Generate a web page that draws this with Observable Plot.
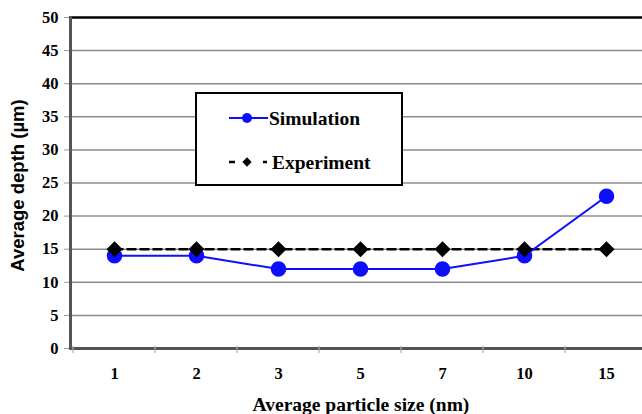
<!DOCTYPE html>
<html><head><meta charset="utf-8">
<script src="https://cdn.jsdelivr.net/npm/d3@7"></script>
<script src="https://cdn.jsdelivr.net/npm/@observablehq/plot@0.6"></script>
<style>
body{margin:0;background:#fff}
#chart{position:relative;width:642px;height:414px}
</style></head><body><div id="chart"></div>
<script>
// Average depth vs. average particle size
const sizes = ["1", "2", "3", "5", "7", "10", "15"];
const simulation = [14, 14, 12, 12, 12, 14, 23];
const experiment = [15, 15, 15, 15, 15, 15, 15];
const yTicks = [0, 5, 10, 15, 20, 25, 30, 35, 40, 45, 50];
const seriesNames = ["Simulation", "Experiment"];
const xTitle = "Average particle size (nm)";
const yTitle = "Average depth (\u00b5m)";

const sim = sizes.map((s, i) => ({size: s, depth: simulation[i]}));
const exp = sizes.map((s, i) => ({size: s, depth: experiment[i]}));

const serif = "'Liberation Serif','Times New Roman',serif";
const sans = "'Liberation Sans',Arial,sans-serif";
const blue = "#0d0dff";

const plot = Plot.plot({
  width: 642, height: 414,
  marginTop: 17, marginBottom: 66, marginLeft: 70, marginRight: 0,
  style: `font-family:${serif};font-weight:bold;font-size:16.5px;background:#fff;color:#000;`,
  x: {type: "band", domain: sizes, range: [70, 649], padding: 0, label: null},
  y: {domain: [0, 50], label: null},
  marks: [
    Plot.ruleY(yTicks.filter(d => d > 0 && d < 50), {stroke: "#8c8c8c", strokeWidth: 1.5}),
    Plot.ruleY([50], {stroke: "#000", strokeWidth: 2.5}),
    Plot.axisY({ticks: yTicks, tickSize: 6, tickPadding: 6, stroke: "#999", fill: "#000", fontSize: 16.5, label: null}),
    Plot.axisX({tickSize: 0, tickPadding: 19, fill: "#000", fontSize: 16.5, label: null}),
    Plot.frame({anchor: "left", stroke: "#555", strokeWidth: 3}),
    Plot.frame({anchor: "bottom", stroke: "#555", strokeWidth: 3}),
    Plot.line(exp, {x: "size", y: "depth", stroke: "#000", strokeWidth: 2.5, strokeDasharray: "8,5"}),
    Plot.line(sim, {x: "size", y: "depth", stroke: blue, strokeWidth: 2}),
    Plot.dot(sim, {x: "size", y: "depth", r: 7, fill: blue, stroke: blue}),
    Plot.dot(exp, {x: "size", y: "depth", symbol: "diamond2", r: 6.3, fill: "#000", stroke: "#000"})
  ]
});
document.getElementById("chart").append(plot);

const svg = d3.select(plot);
// tick labels in bold serif
svg.selectAll("text").style("font-family", serif).style("font-weight", "bold").style("font-size", "16.5px");

const xs = plot.scale("x");
const ys = plot.scale("y");
const y0 = ys.apply(0);

// small ticks at the category boundaries along the bottom axis
sizes.forEach(s => {
  const bx = xs.apply(s);
  svg.append("line").attr("x1", bx).attr("x2", bx).attr("y1", y0 - 2).attr("y2", y0 + 5)
    .attr("stroke", "#aaa").attr("stroke-width", 1.2);
});

function label(sel, family, size, anchor) {
  return sel.style("font-family", family).style("font-weight", "bold").style("font-size", size + "px")
    .attr("text-anchor", anchor).attr("fill", "#000");
}

// axis titles
label(svg.append("text").attr("x", 361).attr("y", 411), serif, 19.5, "middle").text(xTitle);
label(svg.append("text").attr("transform", `translate(24,${(ys.apply(50) + y0) / 2 + 3}) rotate(-90)`), sans, 18.5, "middle")
  .text(yTitle);

// legend box
const lg = svg.append("g");
lg.append("rect").attr("x", 196).attr("y", 93).attr("width", 206).attr("height", 92)
  .attr("fill", "#fff").attr("stroke", "#000").attr("stroke-width", 2);
lg.append("line").attr("x1", 229).attr("x2", 268).attr("y1", 118).attr("y2", 118)
  .attr("stroke", blue).attr("stroke-width", 2);
lg.append("circle").attr("cx", 247).attr("cy", 118).attr("r", 5).attr("fill", blue);
lg.append("line").attr("x1", 229).attr("x2", 268).attr("y1", 162).attr("y2", 162)
  .attr("stroke", "#000").attr("stroke-width", 2.5).attr("stroke-dasharray", "6,28,4,10");
lg.append("path").attr("d", d3.symbol(d3.symbolDiamond2, 55)()).attr("transform", "translate(247,162)")
  .attr("fill", "#000");
label(lg.append("text").attr("x", 269).attr("y", 125), serif, 19.5, "start").text(seriesNames[0]);
label(lg.append("text").attr("x", 272).attr("y", 169), serif, 19.5, "start").text(seriesNames[1]);
</script>
</body></html>
